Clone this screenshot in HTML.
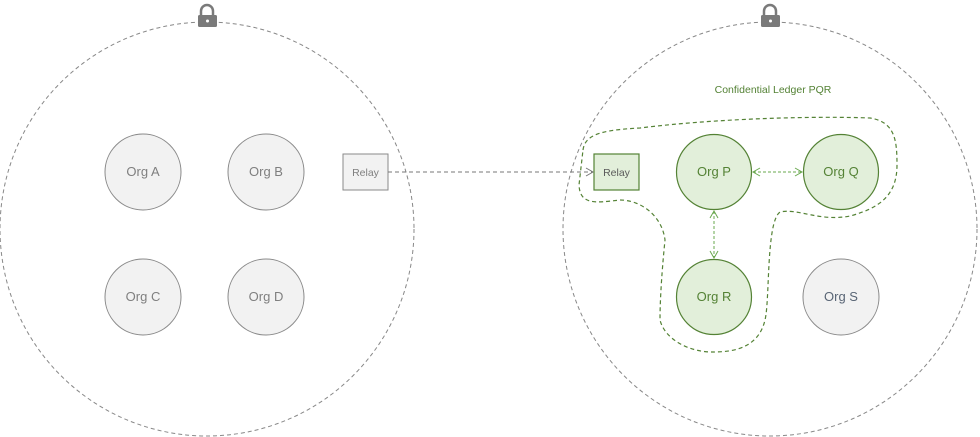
<!DOCTYPE html>
<html><head><style>
html,body{margin:0;padding:0;background:#fff;width:980px;height:437px;overflow:hidden}
svg text{font-family:"Liberation Sans",sans-serif}
</style></head><body>
<svg width="980" height="437" viewBox="0 0 980 437" xmlns="http://www.w3.org/2000/svg">
<defs>
<marker id="ag" markerWidth="10" markerHeight="10" refX="8" refY="5" orient="auto-start-reverse" markerUnits="userSpaceOnUse">
<path d="M1,1 L8,5 L1,9" fill="none" stroke="#6aa84f" stroke-width="1"/></marker>
<marker id="ay" markerWidth="10" markerHeight="10" refX="8" refY="5" orient="auto" markerUnits="userSpaceOnUse">
<path d="M1,1 L8,5 L1,9" fill="none" stroke="#777" stroke-width="1"/></marker>
</defs>
<circle cx="207" cy="229" r="207" fill="none" stroke="#888" stroke-dasharray="4,3"/>
<circle cx="770" cy="229" r="207" fill="none" stroke="#888" stroke-dasharray="4,3"/>
<g fill="#7a7a7a">
<path d="M201,15 v-4 a6,6 0 0 1 12,0 v4" fill="none" stroke="#7a7a7a" stroke-width="2.5"/>
<rect x="198" y="15" width="19" height="12" rx="1.5"/>
<path d="M764,15 v-4 a6,6 0 0 1 12,0 v4" fill="none" stroke="#7a7a7a" stroke-width="2.5"/>
<rect x="761" y="15" width="19" height="12" rx="1.5"/>
</g>
<circle cx="207.5" cy="21" r="1.5" fill="#fff"/><circle cx="770.5" cy="21" r="1.5" fill="#fff"/>
<g fill="#f2f2f2" stroke="#8a8a8a" stroke-width="1">
<circle cx="143" cy="172" r="38"/><circle cx="266" cy="172" r="38"/>
<circle cx="143" cy="297" r="38"/><circle cx="266" cy="297" r="38"/>
<circle cx="841" cy="297" r="38"/>
<rect x="343" y="154" width="45" height="36"/>
</g>
<g fill="#e2efda" stroke="#548235" stroke-width="1.2">
<circle cx="714" cy="172" r="37.5"/><circle cx="841" cy="172" r="37.5"/>
<circle cx="714" cy="297" r="37.5"/>
<rect x="594" y="154" width="45" height="36"/>
</g>
<path d="M583,150 C585,135 600,130 640,128 C720,118 820,116 870,118 C895,122 897,140 897,165 C897,195 880,208 850,216 C820,222 798,208 780,212 C766,222 770,300 765,320 C758,350 730,352 712,352 C690,352 665,340 660,320 C660,290 664,250 665,240 C662,215 640,200 620,200 C595,203 580,205 579,185 Z" fill="none" stroke="#548235" stroke-width="1.2" stroke-dasharray="4,3"/>
<line x1="388" y1="172" x2="593" y2="172" stroke="#777" stroke-dasharray="4,3" marker-end="url(#ay)"/>
<line x1="753" y1="172" x2="802" y2="172" stroke="#6aa84f" stroke-dasharray="3,2" marker-start="url(#ag)" marker-end="url(#ag)"/>
<line x1="714" y1="211" x2="714" y2="258" stroke="#6aa84f" stroke-dasharray="3,2" marker-start="url(#ag)" marker-end="url(#ag)"/>
<g font-size="13" text-anchor="middle" fill="#7f7f7f">
<text x="143" y="176">Org A</text><text x="266" y="176">Org B</text>
<text x="143" y="301">Org C</text><text x="266" y="301">Org D</text>
<text x="365.5" y="176" font-size="10.5">Relay</text>
<text x="841" y="301" fill="#596575">Org S</text>
</g>
<g font-size="13" text-anchor="middle" fill="#548235">
<text x="714" y="176">Org P</text><text x="841" y="176">Org Q</text><text x="714" y="301">Org R</text>
<text x="616.5" y="176" font-size="10.5" fill="#5a5a5a">Relay</text>
<text x="773" y="93" font-size="10.5">Confidential Ledger  PQR</text>
</g>
</svg>
</body></html>
